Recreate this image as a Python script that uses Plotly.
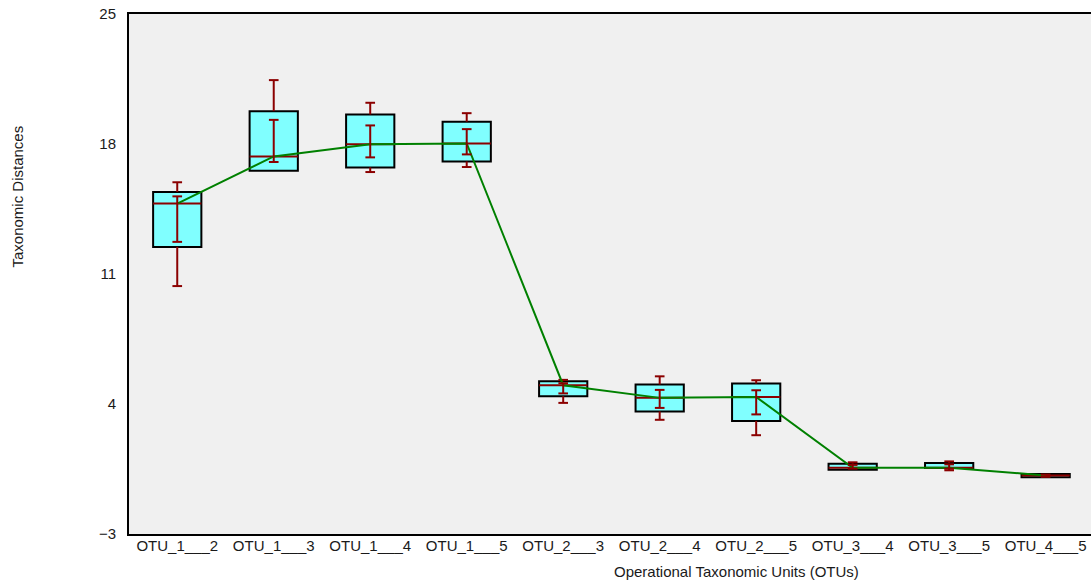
import plotly.graph_objects as go

# OTU pairs on the x axis
categories = ["OTU_1___2", "OTU_1___3", "OTU_1___4", "OTU_1___5", "OTU_2___3",
              "OTU_2___4", "OTU_2___5", "OTU_3___4", "OTU_3___5", "OTU_4___5"]

# box statistics per pair
q1 = [12.46, 16.56, 16.74, 17.06, 4.42, 3.60, 3.09, 0.46, 0.55, 0.05]
q3 = [15.42, 19.77, 19.59, 19.20, 5.23, 5.05, 5.10, 0.78, 0.82, 0.23]
median = [14.79, 17.33, 17.98, 18.03, 5.01, 4.33, 4.38, 0.57, 0.57, 0.15]
whisker_low = [10.35, 16.56, 16.49, 16.76, 4.06, 3.15, 2.32, 0.46, 0.43, 0.05]
whisker_high = [15.94, 21.44, 20.22, 19.66, 5.30, 5.49, 5.28, 0.86, 0.91, 0.23]
# inner error bars
inner_low = [12.73, 17.03, 17.28, 17.44, 4.57, 3.79, 3.44, 0.52, 0.52, 0.08]
inner_high = [15.18, 19.30, 19.00, 18.80, 5.12, 4.76, 4.74, 0.72, 0.75, 0.20]

y_ticks = [-3, 4, 11, 18, 25]

RED = "#8B0000"
GREEN = "#008000"
BOX_FILL = "#80FFFF"
BOX_HALF = 0.25
CAP_HALF = 0.05

pos = list(range(len(categories)))


def vsegs(xs, y0s, y1s):
    sx, sy = [], []
    for x, a, b in zip(xs, y0s, y1s):
        if abs(b - a) < 1e-9:
            continue
        sx += [x, x, None]
        sy += [a, b, None]
    return sx, sy


def hsegs(xs, ys, half):
    sx, sy = [], []
    for x, y in zip(xs, ys):
        sx += [x - half, x + half, None]
        sy += [y, y, None]
    return sx, sy


fig = go.Figure()

# boxes (q1..q3)
fig.add_trace(go.Bar(
    x=pos, y=[b - a for a, b in zip(q1, q3)], base=q1, width=2 * BOX_HALF,
    marker=dict(color=BOX_FILL, line=dict(color="black", width=2)),
    hoverinfo="skip", showlegend=False))

# outer whiskers outside the box
ux, uy = vsegs(pos, q3, whisker_high)
lx, ly = vsegs(pos, whisker_low, q1)
fig.add_trace(go.Scatter(x=ux + lx, y=uy + ly, mode="lines",
                         line=dict(color=RED, width=2), showlegend=False, hoverinfo="skip"))
cap_x = [p for p, a, b in zip(pos, q3, whisker_high) if b > a] + \
        [p for p, a, b in zip(pos, whisker_low, q1) if b > a]
cap_y = [b for a, b in zip(q3, whisker_high) if b > a] + \
        [a for a, b in zip(whisker_low, q1) if b > a]
cx, cy = hsegs(cap_x, cap_y, CAP_HALF)
fig.add_trace(go.Scatter(x=cx, y=cy, mode="lines",
                         line=dict(color=RED, width=2), showlegend=False, hoverinfo="skip"))

# medians
mx, my = hsegs(pos, median, BOX_HALF)
fig.add_trace(go.Scatter(x=mx, y=my, mode="lines",
                         line=dict(color=RED, width=2), showlegend=False, hoverinfo="skip"))

# median trend line
fig.add_trace(go.Scatter(x=pos, y=median, mode="lines",
                         line=dict(color=GREEN, width=2), showlegend=False, hoverinfo="skip"))

# inner error bars
ix, iy = vsegs(pos, inner_low, inner_high)
icx, icy = hsegs(pos + pos, inner_low + inner_high, CAP_HALF)
fig.add_trace(go.Scatter(x=ix + icx, y=iy + icy, mode="lines",
                         line=dict(color=RED, width=2), showlegend=False, hoverinfo="skip"))

FONT = "Liberation Sans, Arial, sans-serif"
fig.update_layout(
    width=1091, height=582,
    margin=dict(l=129, r=0, t=14, b=48),
    paper_bgcolor="white", plot_bgcolor="#F0F0F0",
    font=dict(family=FONT, size=15, color="#1a1a1a"),
    showlegend=False,
    xaxis=dict(range=[-0.5, 9.47], tickmode="array", tickvals=pos, ticktext=categories,
               showgrid=False, zeroline=False, showline=True, linecolor="black",
               linewidth=2, mirror=True, ticks="", ticklabelstandoff=-3,
               tickfont=dict(size=15)),
    yaxis=dict(range=[-3, 25], tickmode="array", tickvals=y_ticks,
               showgrid=False, zeroline=False, showline=True, linecolor="black",
               linewidth=2, ticks="", ticklabelstandoff=8, tickfont=dict(size=15)),
    annotations=[
        dict(text="Taxonomic Distances", xref="paper", yref="paper",
             x=-0.1164, y=0.649, textangle=-90, showarrow=False,
             xanchor="center", yanchor="middle", font=dict(size=15)),
        dict(text="Operational Taxonomic Units (OTUs)", xref="paper", yref="paper",
             x=0.632, y=-0.073, showarrow=False,
             xanchor="center", yanchor="middle", font=dict(size=15)),
    ],
)

fig.write_html("out.html")
